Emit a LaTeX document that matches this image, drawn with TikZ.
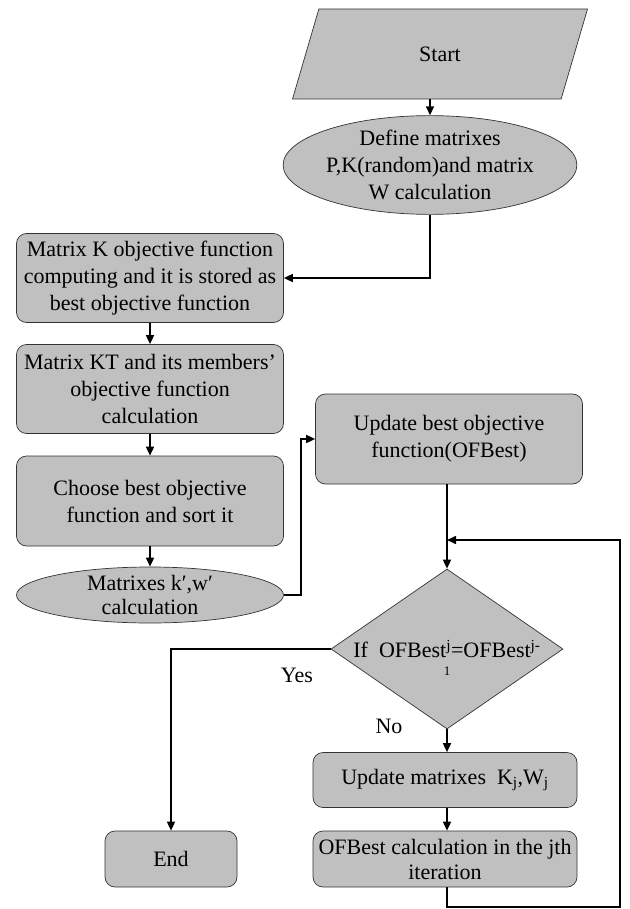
\documentclass[tikz,border=0pt]{standalone}
\usepackage{fontspec}
\setmainfont{Liberation Serif}
\usetikzlibrary{shapes.geometric,arrows.meta}
\definecolor{boxgray}{RGB}{192,192,192}
\begin{document}
\begin{tikzpicture}[x=1pt,y=-1pt,
  font=\fontsize{22}{27}\selectfont,
  shp/.style={draw=black!80,line width=0.7pt,fill=boxgray,inner sep=0pt,align=center},
  procbox/.style={shp,rounded corners=10pt,minimum width=267pt,minimum height=89pt},
  oval/.style={shp,ellipse,minimum width=267pt},
  arr/.style={line width=1.6pt,-{Triangle[length=9pt,width=8pt]}}]
\useasboundingbox (0,0) rectangle (629,909);
% left column
\node[shp,trapezium,trapezium left angle=73,trapezium right angle=107,
  trapezium stretches=true,minimum width=296pt,minimum height=90pt] (start) at (440,54) {Start};
\node[oval,minimum height=90pt] (def) at (430,165) {Define matrixes\\P,K(random)and matrix\\W calculation};
\node[procbox] (kobj) at (150,278) {Matrix K objective function\\computing and it is stored as\\best objective function};
\node[procbox] (kt) at (150,389) {Matrix KT and its members’\\objective function\\calculation};
\node[procbox,minimum height=90pt] (choose) at (150,501) {Choose best objective\\function and sort it};
\node[oval,minimum height=56pt] (kw) at (150,595) {Matrixes k′,w′\\[-3pt]calculation};
% right column
\node[procbox,minimum height=90pt] (upd) at (449,439) {Update best objective\\function(OFBest)};
\node[shp,diamond,minimum width=232pt,minimum height=160pt] (dec) at (447,649) {};
\node[align=center] (cond) at (447,658) {If~~OFBest\textsuperscript{j}=OFBest\textsuperscript{j-}\\[-9pt]{\fontsize{13}{13}\selectfont 1}};
\node[procbox,minimum width=264pt,minimum height=55pt] (updkw) at (445,780) {Update matrixes~~K\textsubscript{j},W\textsubscript{j}};
\node[procbox,minimum width=264pt,minimum height=56pt] (ofb) at (445,859) {OFBest calculation in the jth\\[-2pt]iteration};
\node[procbox,minimum width=132pt,minimum height=56pt] (end) at (171,859) {End};
\node (yes) at (297,675) {Yes};
\node (no) at (389,726) {No};
\coordinate (join) at (447,540);
\coordinate (loopbr) at (620,907);
% connectors
\draw[arr] (start.south -| def.north) -- (def.north);
\draw[arr] (def.south) |- (kobj.east);
\draw[arr] (kobj) -- (kt);
\draw[arr] (kt) -- (choose);
\draw[arr] (choose) -- (kw);
\draw[arr] (kw.east) -- ++(17,0) |- (upd.west);
\draw[arr] (upd.south -| dec.north) -- (dec.north);
\draw[arr] (dec.west) -| (end.north);
\draw[arr] (dec.south) -- (updkw.north -| dec.south);
\draw[arr] (updkw.south -| dec.south) -- (ofb.north -| dec.south);
\draw[arr] (ofb.south -| dec.south) |- (loopbr) |- (join);
\end{tikzpicture}
\end{document}
